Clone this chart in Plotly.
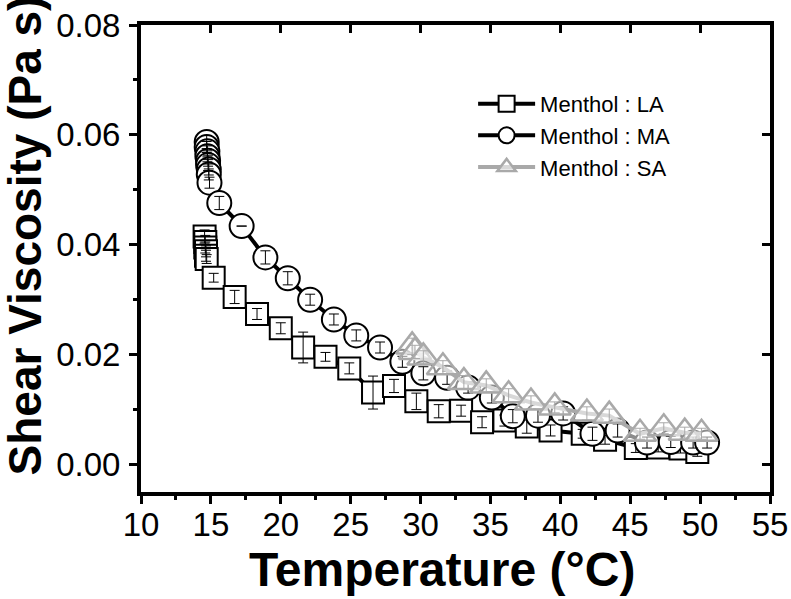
import plotly.graph_objects as go

# ---- data ----
t_la = [14.55, 14.6, 14.6, 14.65, 14.65, 14.7, 15.2, 16.7, 18.3, 20.0, 21.6, 23.2, 24.9, 26.6,
        28.1, 29.7, 31.3, 32.9, 34.4, 36.0, 37.6, 39.3, 41.6, 43.2, 45.4, 47.0, 48.6, 49.8]
v_la = [0.0415, 0.0405, 0.0395, 0.0388, 0.0380, 0.0374, 0.0340, 0.0305, 0.0274, 0.0248, 0.0213,
        0.0196, 0.0175, 0.0131, 0.0143, 0.0115, 0.0097, 0.0098, 0.0077, 0.0080, 0.0069, 0.0062,
        0.0056, 0.0045, 0.0030, 0.0031, 0.0029, 0.0023]
e_la = [0.0012, 0.0012, 0.0010, 0.0010, 0.0010, 0.0008, 0.0008, 0.0012, 0.0010, 0.0010, 0.0028,
        0.0008, 0.0010, 0.0030, 0.0012, 0.0015, 0.0012, 0.0010, 0.0010, 0.0010, 0.0012, 0.0010,
        0.0008, 0.0008, 0.0008, 0.0008, 0.0008, 0.0008]

t_ma = [14.7, 14.7, 14.75, 14.75, 14.8, 14.8, 14.85, 14.85, 14.9, 15.6, 17.2, 18.9, 20.5, 22.1,
        23.8, 25.4, 27.1, 28.7, 30.2, 31.9, 33.4, 35.1, 36.6, 38.4, 40.2, 42.3, 44.1, 46.2,
        47.9, 49.5, 50.5]
v_ma = [0.0587, 0.0578, 0.0570, 0.0561, 0.0553, 0.0545, 0.0537, 0.0528, 0.0513, 0.0476, 0.0434,
        0.0377, 0.0339, 0.0300, 0.0264, 0.0235, 0.0213, 0.0187, 0.0166, 0.0158, 0.0140, 0.0122,
        0.0088, 0.0089, 0.0093, 0.0056, 0.0062, 0.0040, 0.0041, 0.0040, 0.0040]
e_ma = [0.0012, 0.0010, 0.0010, 0.0010, 0.0010, 0.0010, 0.0010, 0.0010, 0.0010, 0.0012, 0.0000,
        0.0012, 0.0012, 0.0010, 0.0010, 0.0010, 0.0010, 0.0010, 0.0012, 0.0012, 0.0010, 0.0010,
        0.0012, 0.0012, 0.0012, 0.0012, 0.0012, 0.0010, 0.0010, 0.0010, 0.0010]

t_sa = [29.4, 29.6, 30.2, 31.6, 33.1, 34.7, 36.3, 37.9, 39.6, 41.9, 43.5, 45.7, 47.4, 48.9, 50.1]
v_sa = [0.0215, 0.0205, 0.0195, 0.0177, 0.0150, 0.0144, 0.0126, 0.0113, 0.0104, 0.0093, 0.0089,
        0.0056, 0.0066, 0.0058, 0.0056]
e_sa = [0.0015, 0.0012, 0.0012, 0.0012, 0.0012, 0.0012, 0.0012, 0.0012, 0.0010, 0.0012, 0.0012,
        0.0010, 0.0010, 0.0010, 0.0010]

names = ["Menthol : LA", "Menthol : MA", "Menthol : SA"]
x_ticks = [10, 15, 20, 25, 30, 35, 40, 45, 50, 55]
y_ticks = [0.00, 0.02, 0.04, 0.06, 0.08]
x_title = "Temperature (°C)"
y_title = "Shear Viscosity (Pa s)"

FONT = "Liberation Sans, Arial, sans-serif"
GRAY = "#a9a9a9"

fig = go.Figure()

def add(t, v, e, name, symbol, color, size, fill, mw):
    # line + filled symbols
    fig.add_trace(go.Scatter(
        x=t, y=v, name=name, legendgroup=name, mode="lines+markers",
        line=dict(color=color, width=4),
        marker=dict(symbol=symbol, size=size, color=fill,
                    line=dict(color=color, width=mw)),
    ))
    # error bars drawn on top of the symbols
    fig.add_trace(go.Scatter(
        x=t, y=v, legendgroup=name, showlegend=False, mode="markers",
        marker=dict(size=1, opacity=0), hoverinfo="skip",
        error_y=dict(type="data", array=e, visible=True, color=color,
                     thickness=1, width=5),
    ))

add(t_la, v_la, e_la, names[0], "square", "black", 22, "white", 2)
add(t_ma, v_ma, e_ma, names[1], "circle", "black", 24, "white", 2)
add(t_sa, v_sa, e_sa, names[2], "triangle-up", GRAY, 28, "rgba(255,255,255,0.55)", 2.5)

# empty trace so the mirrored axes (inside ticks) get drawn
fig.add_trace(go.Scatter(x=[], y=[], xaxis="x2", yaxis="y2", showlegend=False,
                         hoverinfo="skip"))

axis_common = dict(
    showgrid=False, zeroline=False, automargin=False,
    showline=True, linecolor="black", linewidth=4, mirror=True,
    ticks="outside", ticklen=8, tickwidth=3, tickcolor="black",
    tickfont=dict(family=FONT, size=33, color="black"),
    ticklabeloverflow="allow",
)

fig.update_layout(
    width=791, height=599,
    paper_bgcolor="white", plot_bgcolor="white",
    margin=dict(l=141, r=21, t=25, b=107),
    font=dict(family=FONT, color="black"),
    xaxis=dict(
        range=[10, 55], tickvals=x_ticks, ticktext=[str(v) for v in x_ticks],
        minor=dict(ticks="outside", ticklen=4, tickwidth=3, dtick=2.5, tickcolor="black"),
        ticklabelstandoff=-8,
        **axis_common,
    ),
    yaxis=dict(
        range=[-0.005, 0.08], tickvals=y_ticks, ticktext=[f"{v:.2f}" for v in y_ticks],
        minor=dict(ticks="outside", ticklen=4, tickwidth=3, dtick=0.01, tickcolor="black"),
        ticklabelstandoff=2,
        **axis_common,
    ),
    xaxis2=dict(overlaying="x", matches="x", side="top", anchor="y2", showgrid=False,
                zeroline=False, showline=True, linecolor="black", linewidth=4,
                showticklabels=False, automargin=False,
                tickvals=x_ticks, ticks="inside", ticklen=8, tickwidth=3, tickcolor="black"),
    yaxis2=dict(overlaying="y", matches="y", side="right", anchor="x2", showgrid=False,
                zeroline=False, showline=True, linecolor="black", linewidth=4,
                showticklabels=False, automargin=False,
                tickvals=y_ticks, ticks="inside", ticklen=8, tickwidth=3, tickcolor="black"),
    legend=dict(x=0.528, y=0.876, xanchor="left", yanchor="top",
                bgcolor="rgba(0,0,0,0)", borderwidth=0, itemwidth=57,
                font=dict(family=FONT, size=22, color="black"), tracegroupgap=0),
    showlegend=True,
    annotations=[
        dict(text="<b>" + y_title + "</b>", textangle=-90,
             xref="paper", yref="paper", x=-0.184, y=0.55,
             xanchor="center", yanchor="middle", showarrow=False,
             font=dict(family=FONT, size=46, color="black")),
        dict(text="<b>" + x_title + "</b>",
             xref="paper", yref="paper", x=0.4785, y=-0.166,
             xanchor="center", yanchor="middle", showarrow=False,
             font=dict(family=FONT, size=48, color="black")),
    ],
)

# remove the browser's default page margin so the figure sits at the window's corner
fig.write_html("out.html", config={"displayModeBar": False},
               post_script="document.body.style.margin='0';")
